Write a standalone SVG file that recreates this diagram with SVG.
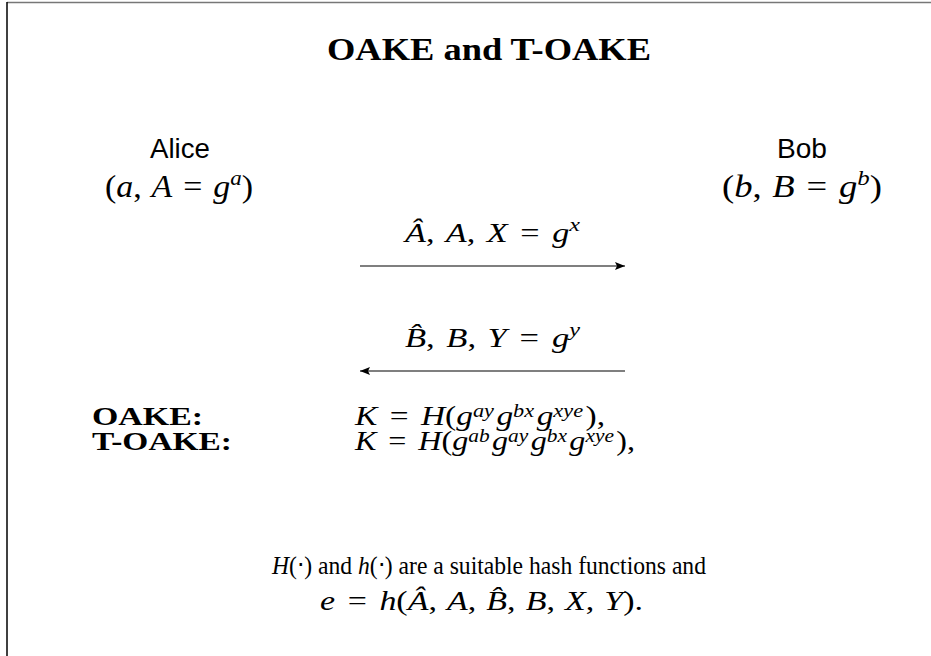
<svg xmlns="http://www.w3.org/2000/svg" width="931" height="656" viewBox="0 0 931 656">
<style>
.serif{font-family:"Liberation Serif","Times New Roman",serif;fill:#000}
.bold{font-weight:bold}
.it{font-style:italic}
.sans{font-family:"Liberation Sans",Arial,sans-serif;fill:#000}
.msg{stroke:#000;stroke-width:1.2;fill:none}
</style>
<defs>
<marker id="ah" viewBox="0 0 10 8" refX="10" refY="4" markerWidth="10" markerHeight="8" markerUnits="userSpaceOnUse" orient="auto">
<path d="M0,0 L10,4 L0,8 L2,4 Z" fill="#000"/>
</marker>
</defs>
<rect width="931" height="656" fill="#fff"/>
<g id="frame">
<line x1="7" y1="2.5" x2="931" y2="2.5" stroke="#777" stroke-width="1.5"/>
<line x1="7" y1="2" x2="7" y2="656" stroke="#000" stroke-width="1.5"/>
</g>
<g id="title">
<text class="serif bold" x="489" y="60" font-size="31" text-anchor="middle" textLength="324" lengthAdjust="spacingAndGlyphs">OAKE and T-OAKE</text>
</g>
<g id="alice">
<text class="sans" x="180" y="158" font-size="28" text-anchor="middle" textLength="60" lengthAdjust="spacingAndGlyphs">Alice</text>
<text class="serif" x="179" y="197" font-size="31" text-anchor="middle" textLength="148" lengthAdjust="spacingAndGlyphs">(<tspan class="it">a</tspan>,<tspan class="it" dx="9">A</tspan><tspan dx="10">=</tspan><tspan class="it" dx="10">g</tspan><tspan class="it" font-size="21" dy="-12">a</tspan><tspan dy="12">)</tspan></text>
</g>
<g id="bob">
<text class="sans" x="802" y="158" font-size="28" text-anchor="middle" textLength="50" lengthAdjust="spacingAndGlyphs">Bob</text>
<text class="serif" x="802" y="197" font-size="31" text-anchor="middle" textLength="160" lengthAdjust="spacingAndGlyphs">(<tspan class="it">b</tspan>,<tspan class="it" dx="9">B</tspan><tspan dx="10">=</tspan><tspan class="it" dx="10">g</tspan><tspan class="it" font-size="21" dy="-12">b</tspan><tspan dy="12">)</tspan></text>
</g>
<g id="connectors">
<line class="msg" x1="360" y1="266" x2="625" y2="266" marker-end="url(#ah)"/>
<line class="msg" x1="625" y1="371" x2="360" y2="371" marker-end="url(#ah)"/>
</g>
<g id="msg1-label">
<text class="serif" x="492.5" y="242" font-size="27" text-anchor="middle" textLength="175" lengthAdjust="spacingAndGlyphs"><tspan class="it">Â</tspan>,<tspan class="it" dx="9">A</tspan>,<tspan class="it" dx="9">X</tspan><tspan dx="10">=</tspan><tspan class="it" dx="10">g</tspan><tspan class="it" font-size="19" dy="-11">x</tspan></text>
</g>
<g id="msg2-label">
<text class="serif" x="492.5" y="347" font-size="27" text-anchor="middle" textLength="175" lengthAdjust="spacingAndGlyphs"><tspan class="it">B̂</tspan>,<tspan class="it" dx="9">B</tspan>,<tspan class="it" dx="9">Y</tspan><tspan dx="10">=</tspan><tspan class="it" dx="10">g</tspan><tspan class="it" font-size="19" dy="-11">y</tspan></text>
</g>
<g id="keys">
<text class="serif bold" x="92" y="425" font-size="26" textLength="111" lengthAdjust="spacingAndGlyphs">OAKE:</text>
<text class="serif bold" x="92" y="450" font-size="26" textLength="140" lengthAdjust="spacingAndGlyphs">T-OAKE:</text>
<text class="serif" x="355" y="425" font-size="27" textLength="250" lengthAdjust="spacingAndGlyphs"><tspan class="it">K</tspan><tspan dx="10">=</tspan><tspan class="it" dx="10">H</tspan>(<tspan class="it">g</tspan><tspan class="it" font-size="18" dy="-8">ay</tspan><tspan class="it" dy="8" dx="2">g</tspan><tspan class="it" font-size="18" dy="-8">bx</tspan><tspan class="it" dy="8" dx="2">g</tspan><tspan class="it" font-size="18" dy="-8">xye</tspan><tspan dy="8" dx="2">),</tspan></text>
<text class="serif" x="355" y="450" font-size="27" textLength="280" lengthAdjust="spacingAndGlyphs"><tspan class="it">K</tspan><tspan dx="10">=</tspan><tspan class="it" dx="10">H</tspan>(<tspan class="it">g</tspan><tspan class="it" font-size="18" dy="-8">ab</tspan><tspan class="it" dy="8" dx="2">g</tspan><tspan class="it" font-size="18" dy="-8">ay</tspan><tspan class="it" dy="8" dx="2">g</tspan><tspan class="it" font-size="18" dy="-8">bx</tspan><tspan class="it" dy="8" dx="2">g</tspan><tspan class="it" font-size="18" dy="-8">xye</tspan><tspan dy="8" dx="2">),</tspan></text>
</g>
<g id="note">
<text class="serif" x="489" y="574" font-size="26" text-anchor="middle" textLength="434" lengthAdjust="spacingAndGlyphs"><tspan class="it">H</tspan>(⋅) and <tspan class="it">h</tspan>(⋅) are a suitable hash functions and</text>
<text class="serif" x="481.5" y="610" font-size="27" text-anchor="middle" textLength="323" lengthAdjust="spacingAndGlyphs"><tspan class="it">e</tspan><tspan dx="10">=</tspan><tspan class="it" dx="10">h</tspan>(<tspan class="it">Â</tspan>,<tspan class="it" dx="8">A</tspan>,<tspan class="it" dx="8">B̂</tspan>,<tspan class="it" dx="8">B</tspan>,<tspan class="it" dx="8">X</tspan>,<tspan class="it" dx="8">Y</tspan>).</text>
</g>
</svg>
